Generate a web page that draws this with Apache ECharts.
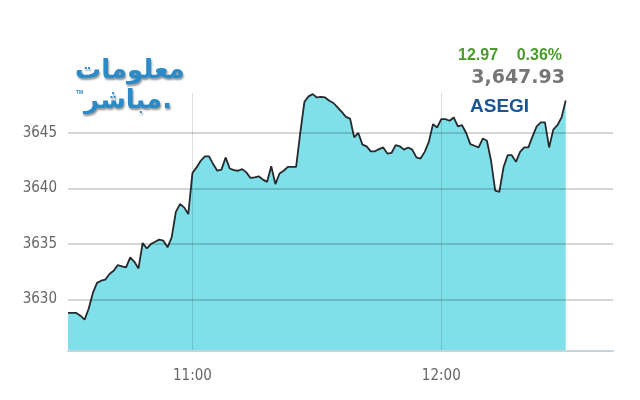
<!DOCTYPE html>
<html>
<head>
<meta charset="utf-8">
<script src="https://cdn.jsdelivr.net/npm/echarts@6/dist/echarts.min.js"></script>
<style>
  html, body { margin: 0; padding: 0; background: #fff; }
  #chart { width: 640px; height: 400px; }
</style>
</head>
<body>
<div id="chart"></div>
<script>
// session start, one point per minute
const startTime = '10:30';
const values = [
  3628.8, 3628.8, 3628.8, 3628.55, 3628.2, 3629.2, 3630.6, 3631.5, 3631.7, 3631.8,
  3632.3, 3632.6, 3633.1, 3633.0, 3632.9, 3633.8, 3633.4, 3632.8, 3635.1, 3634.6,
  3635.0, 3635.2, 3635.4, 3635.3, 3634.7, 3635.6, 3637.9, 3638.6, 3638.3, 3637.7,
  3641.4, 3641.9, 3642.5, 3642.9, 3642.9, 3642.2, 3641.6, 3641.7, 3642.8, 3641.8,
  3641.65, 3641.6, 3641.75, 3641.45, 3640.95, 3641.0, 3641.1, 3640.8, 3640.6, 3642.0,
  3640.4, 3641.35, 3641.6, 3641.95, 3641.95, 3641.95, 3645.0, 3647.8, 3648.3, 3648.5,
  3648.2, 3648.25, 3648.2, 3647.9, 3647.7, 3647.3, 3646.9, 3646.45, 3646.3, 3644.6,
  3645.0, 3643.95, 3643.8, 3643.35, 3643.35, 3643.55, 3643.7, 3643.15, 3643.2, 3643.9,
  3643.8, 3643.5, 3643.7, 3643.5, 3642.8, 3642.7, 3643.3, 3644.2, 3645.8, 3645.5,
  3646.25, 3646.25, 3646.1, 3646.4, 3645.6, 3645.7, 3645.0, 3644.0, 3643.85, 3643.7,
  3644.5, 3644.3, 3642.5, 3639.8, 3639.7, 3641.9, 3643.0, 3643.0, 3642.4, 3643.3,
  3643.7, 3643.7, 3644.7, 3645.6, 3645.95, 3645.95, 3643.7, 3645.3, 3645.7, 3646.4, 3647.93
];
const yTicks = [3630, 3635, 3640, 3645];
const xTicks = ['11:00', '12:00'];
const indexName = 'ASEGI';
const lastClose = '3,647.93';
const change = '12.97';
const changePct = '0.36%';
const logoLines = ['معلومات', 'مباشر.'];

function toMin(t) {
  const p = t.split(':');
  return Number(p[0]) * 60 + Number(p[1]);
}
function fmtMin(v) {
  const h = Math.floor(v / 60), m = Math.round(v % 60);
  return h + ':' + (m < 10 ? '0' + m : m);
}

const t0 = toMin(startTime);
const seriesData = values.map((v, i) => [t0 + i, v]);

const labelFont = "'Liberation Sans Narrow', 'DejaVu Sans Condensed', sans-serif";
const logoStyle = {
  fill: '#2b8bc9',
  font: 'bold 26px "DejaVu Sans", sans-serif',
  textShadowColor: 'rgba(60,60,60,0.55)',
  textShadowBlur: 2,
  textShadowOffsetX: 1,
  textShadowOffsetY: 2
};

const chart = echarts.init(document.getElementById('chart'), null, { renderer: 'canvas' });
chart.setOption({
  animation: false,
  backgroundColor: '#fff',
  grid: { left: 68, right: 27, top: 93, bottom: 49 },
  xAxis: {
    type: 'value',
    min: t0,
    max: 761.4,
    z: 3,
    axisLine: { show: true, lineStyle: { color: '#c8d3da', width: 2 } },
    axisTick: { show: false, customValues: xTicks.map(toMin) },
    axisLabel: {
      customValues: xTicks.map(toMin),
      formatter: fmtMin,
      color: '#666',
      fontSize: 15,
      fontFamily: labelFont,
      margin: 18
    },
    splitLine: { show: true, lineStyle: { color: 'rgba(0,0,0,0.13)', width: 1 } }
  },
  yAxis: {
    type: 'value',
    min: 3625.37,
    max: 3648.6,
    z: 3,
    axisLine: { show: false },
    axisTick: { show: false, customValues: yTicks },
    axisLabel: {
      customValues: yTicks,
      formatter: (v) => String(v),
      color: '#666',
      fontSize: 15,
      fontFamily: labelFont,
      margin: 11
    },
    splitLine: { show: true, lineStyle: { color: 'rgba(0,0,0,0.16)', width: 2 } }
  },
  graphic: [
    {
      type: 'text', left: 458, top: 48,
      style: { text: change, fill: '#4b9a2c', font: 'bold 16px Arial, "Liberation Sans", sans-serif' }
    },
    {
      type: 'text', right: 78, top: 48,
      style: { text: changePct, fill: '#4b9a2c', font: 'bold 16px Arial, "Liberation Sans", sans-serif' }
    },
    {
      type: 'text', right: 75, top: 69,
      style: { text: lastClose, fill: '#767676', font: 'bold 19px "DejaVu Sans", sans-serif' }
    },
    {
      type: 'text', left: 470, top: 97,
      style: { text: indexName, fill: '#1c5593', font: 'bold 19px Arial, "Liberation Sans", sans-serif' }
    },
    {
      type: 'text', left: 75, top: 58,
      style: Object.assign({ text: logoLines[0] }, logoStyle)
    },
    {
      type: 'text', left: 84, top: 88,
      style: Object.assign({ text: logoLines[1] }, logoStyle)
    },
    {
      type: 'text', left: 76, top: 90,
      style: { text: 'TM', fill: '#2b8bc9', font: 'bold 5px Arial, sans-serif' }
    }
  ],
  series: [{
    type: 'line',
    data: seriesData,
    showSymbol: false,
    z: 2,
    lineStyle: { color: '#262a2c', width: 1.8 },
    areaStyle: { color: '#7fe0ea', opacity: 1 }
  }]
});
</script>
</body>
</html>
